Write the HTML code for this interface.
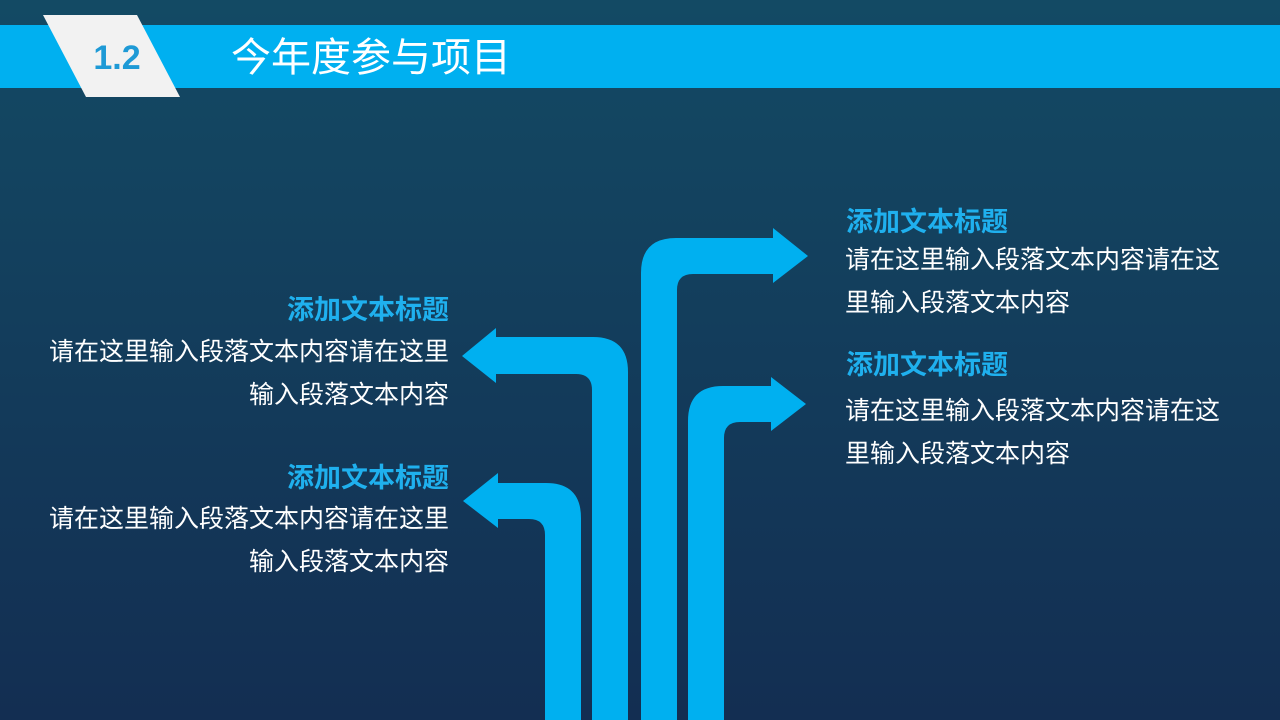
<!DOCTYPE html>
<html><head><meta charset="utf-8"><style>
body{margin:0;width:1280px;height:720px;overflow:hidden;background:linear-gradient(#134a64,#132e52);font-family:"Liberation Sans","Noto Sans CJK SC",sans-serif;position:relative}
.t{position:absolute;font-size:27px;font-weight:bold;color:#1fb0ee;white-space:nowrap;line-height:30px}
.b{position:absolute;font-size:25px;color:#fff;line-height:43px;white-space:nowrap}
.r{text-align:right}
</style></head><body>
<svg width="1280" height="720" style="position:absolute;left:0;top:0">
<rect x="0" y="25" width="1280" height="63" fill="#00b0f0"/>
<polygon points="43,15 137,15 180,97 86,97" fill="#f2f2f2"/>
<g fill="#00b0f0">
<path d="M592,720 V390 Q592,374 576,374 H496 V383 L462,356 L496,328 V337 H593 Q628,337 628,372 V720 Z"/>
<path d="M545,720 V535 Q545,519 529,519 H498 V528 L463,501 L498,473 V483 H546 Q581,483 581,518 V720 Z"/>
<path d="M641,720 V273 Q641,238 676,238 H773 V228 L808,256 L773,283 V274 H693 Q677,274 677,290 V720 Z"/>
<path d="M688,720 V421 Q688,386 723,386 H771 V377 L806,404 L771,431 V422 H740 Q724,422 724,438 V720 Z"/>
</g>
<text x="117" y="69" text-anchor="middle" font-family="Liberation Sans" font-weight="bold" font-size="34" fill="#1e9ad6">1.2</text>
<text x="231" y="71" font-family="Liberation Sans,Noto Sans CJK SC,sans-serif" font-size="40" fill="#fff">今年度参与项目</text>
</svg>
<div class="t r" style="right:831px;top:295px">添加文本标题</div>
<div class="b r" style="right:831px;top:331px">请在这里输入段落文本内容请在这里<br>输入段落文本内容</div>
<div class="t r" style="right:831px;top:463px">添加文本标题</div>
<div class="b r" style="right:831px;top:498px">请在这里输入段落文本内容请在这里<br>输入段落文本内容</div>
<div class="t" style="left:846px;top:207px">添加文本标题</div>
<div class="b" style="left:845px;top:239px">请在这里输入段落文本内容请在这<br>里输入段落文本内容</div>
<div class="t" style="left:846px;top:350px">添加文本标题</div>
<div class="b" style="left:845px;top:390px">请在这里输入段落文本内容请在这<br>里输入段落文本内容</div>
</body></html>
